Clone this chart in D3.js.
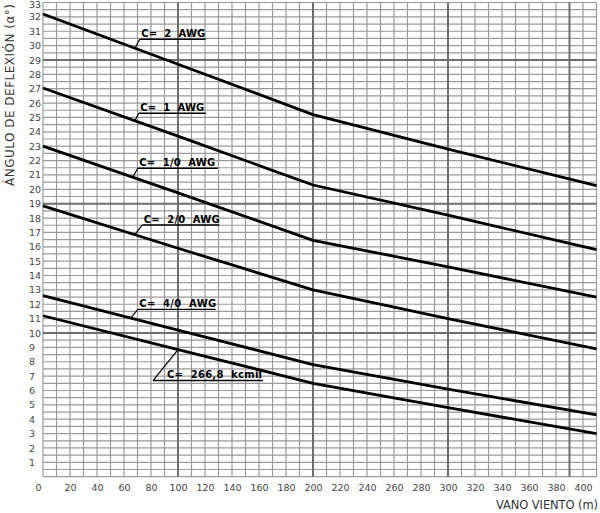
<!DOCTYPE html>
<html>
<head>
<meta charset="utf-8">
<script src="https://cdn.jsdelivr.net/npm/d3@7"></script>
<style>
  html, body { margin: 0; padding: 0; background: #fff; }
  svg { display: block; }
</style>
</head>
<body>
<svg id="chart" width="600" height="513"></svg>
<script>
// ---- data ----
const vanoValues = [0, 100, 200, 300, 410];
const serie2AWG   = [32.2, 28.7, 25.2, 22.8, 20.25];
const serie1AWG   = [27.05, 23.7, 20.3, 18.2, 15.8];
const serie10AWG  = [23.0, 19.75, 16.45, 14.6, 12.5];
const serie20AWG  = [18.85, 15.9, 13.0, 11.0, 8.9];
const serie40AWG  = [12.6, 10.2, 7.8, 6.1, 4.3];
const serie2668   = [11.2, 8.85, 6.5, 4.8, 3.0];
const seriesNames = ["C=  2  AWG", "C=  1  AWG", "C=  1/0  AWG", "C=  2/0  AWG", "C=  4/0  AWG", "C=  266,8  kcmil"];
const xTickLabels = d3.range(0, 401, 20);
const yTickLabels = d3.range(1, 34, 1);
const xTitle = "VANO VIENTO (m)";
const yTitle = "ÁNGULO DE DEFLEXIÓN (α°)";

const allSeries = [serie2AWG, serie1AWG, serie10AWG, serie20AWG, serie40AWG, serie2668];

// ---- layout ----
const svg = d3.select("#chart");
const x = d3.scaleLinear().domain([0, 410]).range([43, 596.5]);
const y = d3.scaleLinear().domain([0, 33]).range([476.7, 2.5]);

// grid
const g = svg.append("g");
const vMajor = [100, 200, 300, 390];
const hMajor = [10, 19, 29];
g.selectAll("line.v").data(d3.range(0, 411, 10).filter(v => !vMajor.includes(v)))
  .join("line").attr("x1", d => x(d)).attr("x2", d => x(d))
  .attr("y1", y(33)).attr("y2", y(0))
  .attr("stroke", "#9a9a9a").attr("stroke-width", 1.2);
g.selectAll("line.h").data(d3.range(0, 33.01, 0.5).filter(v => !hMajor.includes(v)))
  .join("line").attr("x1", x(0)).attr("x2", x(410))
  .attr("y1", d => y(d)).attr("y2", d => y(d))
  .attr("stroke", "#9a9a9a").attr("stroke-width", 1.2);
g.append("g").selectAll("line").data(vMajor)
  .join("line").attr("x1", d => x(d)).attr("x2", d => x(d))
  .attr("y1", y(33)).attr("y2", y(0))
  .attr("stroke", "#6e6e6e").attr("stroke-width", 2);
g.append("g").selectAll("line").data(hMajor)
  .join("line").attr("x1", x(0)).attr("x2", x(410))
  .attr("y1", d => y(d)).attr("y2", d => y(d))
  .attr("stroke", "#6e6e6e").attr("stroke-width", 2);

// axes labels
const xAxis = svg.append("g").attr("transform", `translate(0,${y(0)})`)
  .call(d3.axisBottom(x).tickValues(xTickLabels).tickSize(0).tickPadding(6).tickFormat(d3.format("d")));
xAxis.select(".domain").remove();
xAxis.selectAll("text").attr("font-family", "DejaVu Sans").attr("font-size", 9.5)
  .attr("fill", "#444").attr("dy", "0.9em")
  .attr("dx", d => d === 0 ? -5 : 0);

const yAxis = svg.append("g").attr("transform", `translate(29,0)`)
  .call(d3.axisLeft(y).tickValues(yTickLabels).tickSize(0).tickPadding(0));
yAxis.select(".domain").remove();
yAxis.selectAll("text").attr("font-family", "DejaVu Sans").attr("font-size", 9.5)
  .attr("fill", "#444").attr("text-anchor", "start").attr("x", 0)
  .attr("dy", d => d === 33 ? "0.55em" : "0.32em");

// titles
svg.append("text").attr("x", 496).attr("y", 509)
  .attr("font-family", "DejaVu Sans").attr("font-size", 11.5).attr("fill", "#333")
  .attr("textLength", 102).attr("lengthAdjust", "spacing")
  .text(xTitle);
svg.append("text").attr("transform", "translate(14,186) rotate(-90)")
  .attr("font-family", "DejaVu Sans").attr("font-size", 12).attr("fill", "#333")
  .attr("textLength", 182).attr("lengthAdjust", "spacing")
  .text(yTitle);

// curves
const line = d3.line().x(d => x(d[0])).y(d => y(d[1]));
svg.append("g").selectAll("path").data(allSeries)
  .join("path")
  .attr("d", s => line(vanoValues.map((v, i) => [v, s[i]])))
  .attr("fill", "none").attr("stroke", "#000").attr("stroke-width", 2.8)
  .attr("stroke-linejoin", "round");

// labels (layout: anchor on curve by vano value, leader offset, underline/text width)
const labelLayout = [
  { at: 68, dx: 5, dy: -9, w: 66, tw: 64 },
  { at: 68, dx: 4, dy: -7.5, w: 67, tw: 64 },
  { at: 66.5, dx: 5, dy: -9, w: 80, tw: 76 },
  { at: 68, dx: 7.5, dy: -9.7, w: 77, tw: 76 },
  { at: 65, dx: 7, dy: -8.7, w: 78, tw: 77 },
  { at: 100, dx: -25, dy: 31, w: 110, tw: 95, tx: 14 }
];
const interp = (s, v) => d3.scaleLinear().domain(vanoValues).range(s)(v);
const lg = svg.append("g");
labelLayout.forEach((L, i) => {
  const px = x(L.at), py = y(interp(allSeries[i], L.at));
  const ux = px + L.dx, uy = py + L.dy;
  lg.append("line").attr("x1", px).attr("y1", py).attr("x2", ux).attr("y2", uy)
    .attr("stroke", "#000").attr("stroke-width", 1.2);
  lg.append("line").attr("x1", ux).attr("y1", uy).attr("x2", ux + L.w).attr("y2", uy)
    .attr("stroke", "#000").attr("stroke-width", 1.4);
  lg.append("text").attr("x", ux + (L.tx || 1.5)).attr("y", uy - 2.3)
    .attr("font-family", "DejaVu Sans").attr("font-weight", "bold")
    .attr("font-size", 10).attr("fill", "#000")
    .style("white-space", "pre")
    .attr("textLength", L.tw).attr("lengthAdjust", "spacing")
    .text(seriesNames[i]);
});
</script>
</body>
</html>
